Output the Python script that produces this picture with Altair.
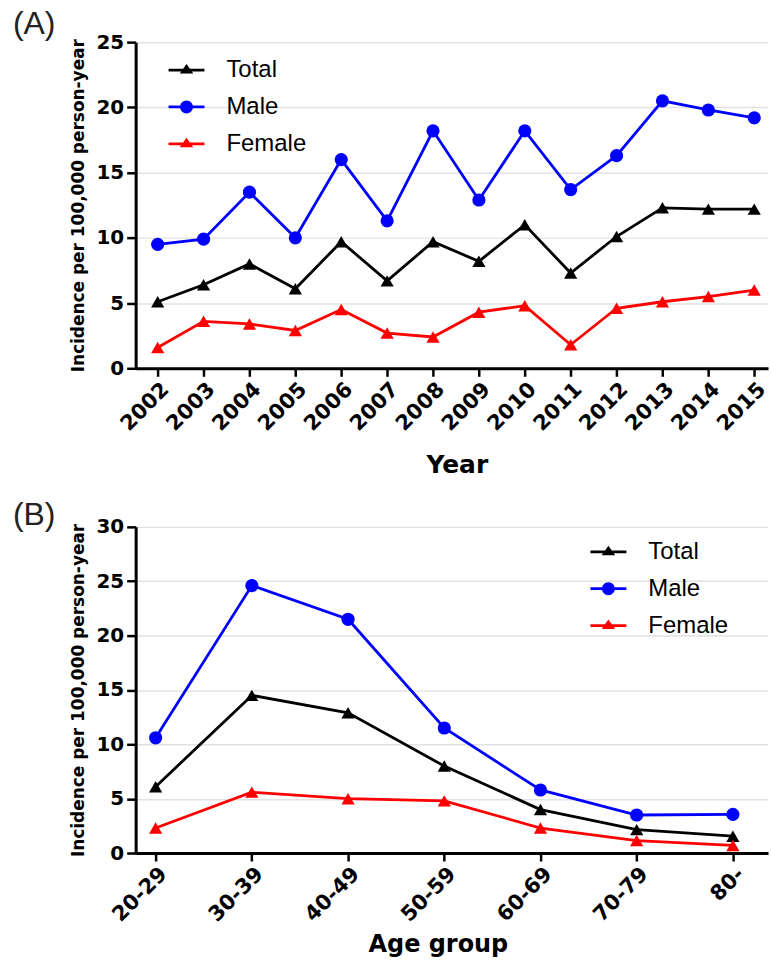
import json
import altair as alt
import pandas as pd

# ---------------- data ----------------
YEARS = list(range(2002, 2016))
TOTAL_BY_YEAR = [5.1, 6.4, 8.0, 6.1, 9.7, 6.7, 9.7, 8.2, 11.0, 7.3, 10.1, 12.3, 12.2, 12.2]
MALE_BY_YEAR = [9.5, 9.9, 13.5, 10.0, 16.0, 11.3, 18.2, 12.9, 18.2, 13.7, 16.3, 20.5, 19.8, 19.2]
FEMALE_BY_YEAR = [1.6, 3.6, 3.4, 2.9, 4.5, 2.7, 2.4, 4.3, 4.8, 1.8, 4.6, 5.1, 5.5, 6.0]

AGE_GROUPS = ["20-29", "30-39", "40-49", "50-59", "60-69", "70-79", "80-"]
TOTAL_BY_AGE = [6.1, 14.5, 12.9, 8.0, 4.0, 2.15, 1.55]
MALE_BY_AGE = [10.6, 24.6, 21.5, 11.5, 5.8, 3.5, 3.55]
FEMALE_BY_AGE = [2.3, 5.6, 5.0, 4.8, 2.3, 1.15, 0.7]

SERIES = ["Total", "Male", "Female"]
COLORS = ["#000000", "#0000ff", "#ff0000"]
MARKERS = ["triangle-up", "circle", "triangle-up"]

df_year = pd.DataFrame({
    "year": YEARS * 3,
    "series": ["Total"] * len(YEARS) + ["Male"] * len(YEARS) + ["Female"] * len(YEARS),
    "value": TOTAL_BY_YEAR + MALE_BY_YEAR + FEMALE_BY_YEAR,
})
df_age = pd.DataFrame({
    "group": AGE_GROUPS * 3,
    "series": ["Total"] * len(AGE_GROUPS) + ["Male"] * len(AGE_GROUPS) + ["Female"] * len(AGE_GROUPS),
    "value": TOTAL_BY_AGE + MALE_BY_AGE + FEMALE_BY_AGE,
})

# legend symbols: a short line with the marker on it
BAR = "M-1.8,-0.14H1.8V0.14H-1.8Z "
TRI = BAR + "M0,-0.62L0.68,0.34H-0.68Z"
CIRC = BAR + "M0.65,0A0.65,0.65,0,1,1,-0.65,0A0.65,0.65,0,1,1,0.65,0Z"

BOLD = "DejaVu Sans"


def y_axis(ymax):
    return alt.Axis(
        values=list(range(0, ymax + 1, 5)),
        title="Incidence per 100,000 person-year",
        grid=True, gridColor="#e2e2e2", gridWidth=1.5,
        domainColor="black", domainWidth=3,
        tickColor="black", tickWidth=2.5, tickSize=9,
        labelFont=BOLD, labelFontWeight="bold", labelFontSize=20,
        labelColor="black", labelPadding=3,
        titleFont=BOLD, titleFontWeight="bold", titleFontSize=17,
        titleColor="black", titlePadding=8,
    )


def x_axis_common(title, title_size, title_x, title_y, **kw):
    return alt.Axis(
        title=title, grid=False, labelAngle=-45, labelOverlap=False,
        domainColor="black", domainWidth=3,
        tickColor="black", tickWidth=2.5, tickSize=8,
        labelFont=BOLD, labelFontWeight="bold", labelFontSize=21,
        labelColor="black", labelPadding=2,
        titleFont=BOLD, titleFontWeight="bold", titleFontSize=title_size,
        titleColor="black", titleX=title_x, titleY=title_y,
        titleBaseline="alphabetic", titleAlign="center",
        **kw,
    )


def panel(df, xenc, ymax, legx, legy, label, title_offset, transforms=None):
    base = alt.Chart(df)
    if transforms:
        base = base.transform_calculate(**transforms)
    base = base.encode(
        x=xenc,
        y=alt.Y("value:Q", scale=alt.Scale(domain=[0, ymax], nice=False), axis=y_axis(ymax)),
    )
    lines, points = [], []
    for s, c, m in zip(SERIES, COLORS, MARKERS):
        sub = base.transform_filter(alt.datum.series == s)
        lines.append(sub.mark_line(color=c, strokeWidth=2.8))
        points.append(sub.mark_point(filled=True, opacity=1, size=175, color=c, shape=m))

    leg_props = dict(
        title=None, orient="none", legendX=legx, legendY=legy,
        symbolSize=400, symbolStrokeWidth=0,
        labelFont="Liberation Sans", labelFontSize=24, labelColor="black",
        labelOffset=28, rowPadding=13,
    )
    legend_layer = base.transform_filter("false").mark_point(
        filled=True, opacity=1, size=400
    ).encode(
        color=alt.Color("series:N", scale=alt.Scale(domain=SERIES, range=COLORS),
                        legend=alt.Legend(**leg_props)),
        shape=alt.Shape("series:N", scale=alt.Scale(domain=SERIES, range=[TRI, CIRC, TRI]),
                        legend=alt.Legend(**leg_props)),
    )
    return alt.layer(*lines, *points, legend_layer).properties(
        width=634, height=327,
        title=alt.TitleParams(
            label, anchor="start", frame="group", dx=-123,
            fontSize=32, font="Liberation Sans", fontWeight="normal",
            color="#222222", offset=title_offset, baseline="alphabetic",
        ),
    )


chart_a = panel(
    df_year,
    alt.X("year:Q", scale=alt.Scale(domain=[2001.52, 2015.30], nice=False, zero=False),
          axis=x_axis_common("Year", 25, 322, 104, values=YEARS, format="d")),
    25, 39, 16, "(A)", -34,
)

label_expr = json.dumps(AGE_GROUPS) + "[datum.value]"
chart_b = panel(
    df_age,
    alt.X("idx:Q", scale=alt.Scale(domain=[-0.2077, 6.365], nice=False, zero=False),
          axis=x_axis_common("Age group", 24, 303, 99, values=list(range(len(AGE_GROUPS))),
                             labelExpr=label_expr)),
    30, 462, 13, "(B)", -40,
    transforms={"idx": "indexof(" + json.dumps(AGE_GROUPS) + ", datum.group)"},
)

chart = alt.vconcat(chart_a, chart_b, spacing=22).resolve_scale(
    color="independent", shape="independent"
).properties(
    padding={"left": 13, "top": 7, "right": 1, "bottom": 0},
    background="white",
).configure_view(stroke=None)

chart.save("out.html", embed_options={"renderer": "svg", "actions": False})
